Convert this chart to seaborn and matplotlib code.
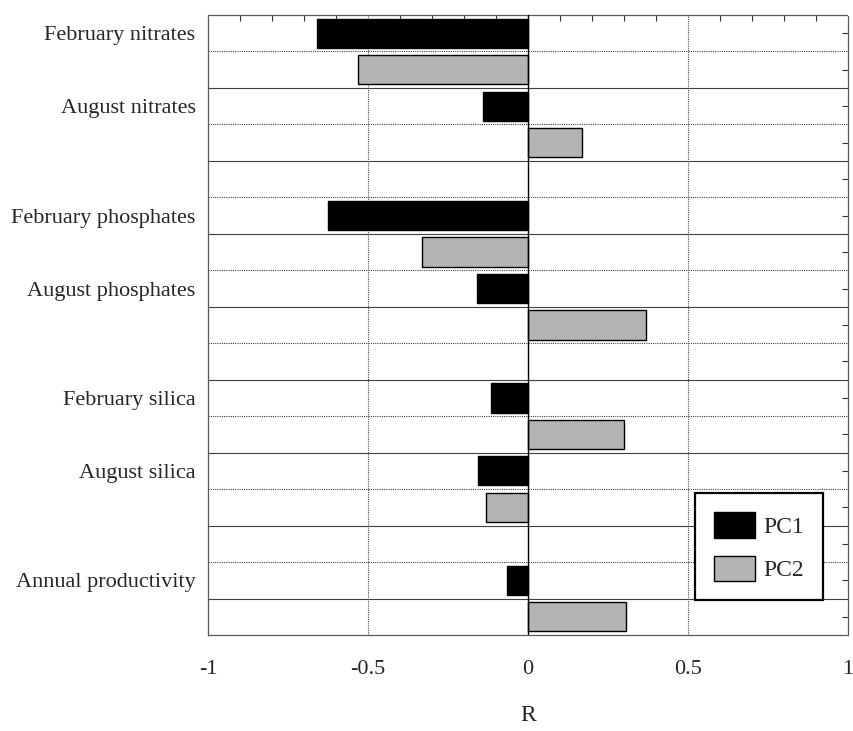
import numpy as np
import pandas as pd
import matplotlib
matplotlib.use("Agg")
import matplotlib.pyplot as plt
import seaborn as sns

variables = ["February nitrates", "August nitrates", "February phosphates",
             "August phosphates", "February silica", "August silica",
             "Annual productivity"]
pc1 = [-0.66, -0.14, -0.625, -0.16, -0.115, -0.155, -0.065]
pc2 = [-0.53, 0.17, -0.33, 0.37, 0.30, -0.13, 0.305]
# groups of two variables separated by an empty row
gap_after = [1, 3, 5]

sns.set_style("white")
plt.rcParams["font.family"] = ["Liberation Serif", "DejaVu Serif"]

# build slot order: PC1 row, PC2 row for each variable, blank rows between groups
slots = []
rows = []
for i, var in enumerate(variables):
    s1, s2 = f"{var}|PC1", f"{var}|PC2"
    slots += [s1, s2]
    rows.append({"slot": s1, "R": pc1[i], "PC": "PC1"})
    rows.append({"slot": s2, "R": pc2[i], "PC": "PC2"})
    if i in gap_after:
        slots.append(f"blank{i}")
df = pd.DataFrame(rows)

fig = plt.figure(figsize=(8.54, 7.31), dpi=100)
ax = fig.add_axes([0.2436, 0.1313, 0.7494, 0.8482])

sns.barplot(data=df, x="R", y="slot", hue="PC", order=slots, orient="h",
            dodge=False, palette={"PC1": "black", "PC2": "#b4b4b4"},
            edgecolor="black", linewidth=1.0, width=0.8, ax=ax)

n = len(slots)
ax.set_ylim(n - 0.5, -0.5)
ax.set_xlim(-1, 1)

# horizontal separators between rows
for k in range(n - 1):
    ax.axhline(k + 0.5, color="0.25", lw=0.8,
               ls="-" if k % 2 else (0, (1, 1)), zorder=0.5)
for xv in [-0.5, 0.5]:
    ax.axvline(xv, color="0.3", lw=0.8, ls=(0, (1, 1)), zorder=0.5)
ax.axvline(0, color="black", lw=1.0, zorder=3)

ax.set_xticks([-1, -0.5, 0, 0.5, 1])
ax.set_xticklabels(["-1", "-0.5", "0", "0.5", "1"], fontsize=16)
ax.set_xticks(np.arange(-1, 1.01, 0.1), minor=True)
ax.set_yticks(range(n))
ylabels = [s.split("|")[0] if s.endswith("|PC1") else "" for s in slots]
ax.set_yticklabels(ylabels, fontsize=16)
ax.tick_params(axis="both", which="both", direction="in", top=True,
               right=True, length=4, width=0.8, color="0.2")
ax.tick_params(axis="x", which="major", length=0, pad=18)
ax.tick_params(axis="y", which="major", pad=9)

ax.set_xlabel("R", fontsize=17, labelpad=19)
ax.set_ylabel("")

for sp in ax.spines.values():
    sp.set_color("0.35")
    sp.set_linewidth(0.9)
    sp.set_linestyle((0, (1, 1)))

handles, labels = ax.get_legend_handles_labels()
leg = ax.legend(handles, labels, loc="lower left",
                bbox_to_anchor=(0.761, 0.056), fontsize=17,
                frameon=True, fancybox=False, edgecolor="black",
                handlelength=1.75, handleheight=1.3, borderpad=0.8,
                labelspacing=0.75, handletextpad=0.35, borderaxespad=0)
leg.get_frame().set_linewidth(1.6)
leg.get_frame().set_alpha(1)

fig.savefig("out.png", dpi=100)
